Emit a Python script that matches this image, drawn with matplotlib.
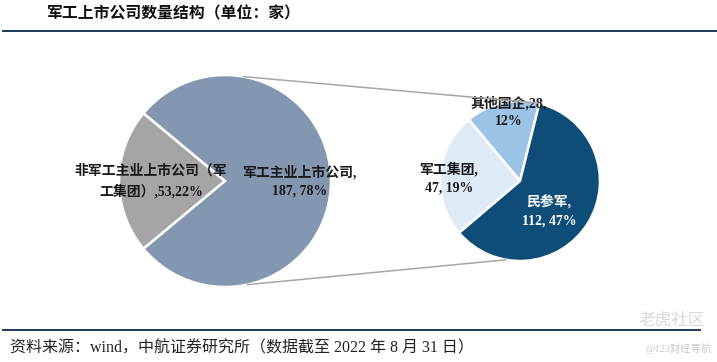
import matplotlib
matplotlib.use("Agg")
import matplotlib.pyplot as plt
from matplotlib.patches import ConnectionPatch
import numpy as np

plt.rcParams['font.family'] = ['Liberation Serif', 'Noto Sans CJK SC', 'DejaVu Sans']

# ---- data ----
main_labels = ["非军工主业上市公司（军\n工集团）", "军工主业上市公司,\n"]
main_values = [53, 187]
main_pcts = [22, 78]

sub_labels = ["其他国企,", "军工集团,\n", "民参军,\n"]
sub_values = [28, 47, 112]
sub_pcts = [12, 19, 47]

title = "军工上市公司数量结构（单位：家）"
source = "资料来源：wind，中航证券研究所（数据截至 2022 年 8 月 31 日）"

main_colors = ["#A5A5A5", "#8497B0"]
sub_colors = ["#9DC3E6", "#DEEBF7", "#0E4D78"]

W, H = 717, 362
fig = plt.figure(figsize=(W / 100, H / 100), dpi=100)

def px_axes(cx, cy, r):
    return fig.add_axes([(cx - r) / W, (H - cy - r) / H, 2 * r / W, 2 * r / H])

# left pie
ax1 = px_axes(225, 181, 106)
start1 = 180 - main_values[0] / sum(main_values) * 360 / 2
ax1.pie(main_values, colors=main_colors, startangle=start1, counterclock=True,
        wedgeprops=dict(edgecolor="white", linewidth=1.8), radius=1)
ax1.set_xlim(-1, 1); ax1.set_ylim(-1, 1); ax1.axis("off")

lab_fmt = dict(fontsize=10, fontweight="bold", ha="center", va="center", linespacing=1.5)
ax1.text(-0.70, 0.0, f"{main_labels[0]},{main_values[0]},{main_pcts[0]}%", color="#1a1a1a", **lab_fmt)
ax1.text(0.70, 0.0, f"{main_labels[1]}{main_values[1]}, {main_pcts[1]}%", color="#1a1a1a", **lab_fmt)

# right pie
ax2 = px_axes(520, 181, 80)
ax2.pie(sub_values, colors=sub_colors, startangle=76, counterclock=True,
        wedgeprops=dict(edgecolor="white", linewidth=1.8), radius=1)
ax2.set_xlim(-1, 1); ax2.set_ylim(-1, 1); ax2.axis("off")

ax2.text(-0.14, 0.86, f"{sub_labels[0]}{sub_values[0]},\n{sub_pcts[0]}%", color="#1a1a1a", **lab_fmt)
ax2.text(-0.89, 0.04, f"{sub_labels[1]}{sub_values[1]}, {sub_pcts[1]}%", color="#1a1a1a", **lab_fmt)
ax2.text(0.36, -0.38, f"{sub_labels[2]}{sub_values[2]}, {sub_pcts[2]}%", color="white", **lab_fmt)

# connector lines
def pt(a):
    t = np.deg2rad(a)
    return (np.cos(t), np.sin(t))

for aA, aB in [(80, 77), (-78, -100)]:
    con = ConnectionPatch(xyA=pt(aA), coordsA=ax1.transData, xyB=pt(aB), coordsB=ax2.transData,
                          color="#A6A6A6", linewidth=1.1)
    fig.add_artist(con)

# title and rules
fig.text(47 / W, 1 - 14 / H, title, fontsize=11.4, fontweight="bold", ha="left", va="center", color="#111111")
fig.add_artist(plt.Line2D([3 / W, 1], [1 - 31 / H] * 2, color="#1F3B5A", linewidth=1.4))
fig.add_artist(plt.Line2D([3 / W, 700 / W], [1 - 330 / H] * 2, color="#1F3B5A", linewidth=1.4))
fig.text(10 / W, 1 - 348 / H, source, fontsize=11.5, ha="left", va="center", color="#222222")
fig.text(712 / W, 1 - 348 / H, "@123财经导航", fontsize=7.5, ha="right", va="center", color="#C8C8C8")
fig.text(705 / W, 1 - 321 / H, "老虎社区", fontsize=12, ha="right", va="center", color="#D8D8D8")

fig.savefig("out.png", dpi=100)
